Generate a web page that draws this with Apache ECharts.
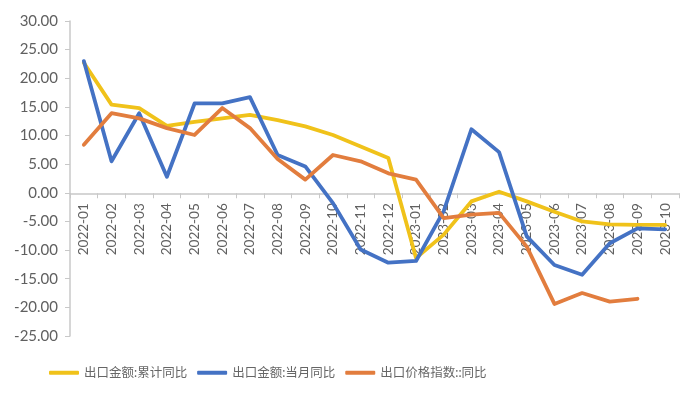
<!DOCTYPE html>
<html>
<head>
<meta charset="utf-8">
<script src="https://cdn.jsdelivr.net/npm/echarts@6/dist/echarts.min.js"></script>
<style>
html,body{margin:0;padding:0;background:#fff;}
#chart{width:700px;height:400px;}
</style>
</head>
<body>
<div id="chart"></div>
<script>
const categories = ['2022-01','2022-02','2022-03','2022-04','2022-05','2022-06','2022-07','2022-08','2022-09','2022-10','2022-11','2022-12','2023-01','2023-02','2023-03','2023-04','2023-05','2023-06','2023-07','2023-08','2023-09','2023-10'];
const seriesNames = ['出口金额:累计同比','出口金额:当月同比','出口价格指数::同比'];
const cumulativeYoY = [22.7,15.4,14.8,11.7,12.4,13.0,13.6,12.7,11.6,10.1,8.1,6.1,-11.4,-7.3,-1.5,0.2,-1.5,-3.3,-5.0,-5.5,-5.6,-5.6];
const monthlyYoY = [23.0,5.5,13.9,2.8,15.6,15.6,16.7,6.6,4.6,-1.8,-9.9,-12.2,-11.9,-3.2,11.1,7.1,-7.6,-12.6,-14.3,-8.8,-6.2,-6.4];
const priceIndexYoY = [8.4,13.9,13.0,11.3,10.1,14.8,11.3,5.9,2.3,6.6,5.5,3.4,2.3,-4.4,-3.8,-3.5,-9.4,-19.4,-17.5,-19.0,-18.5,null];
const colors = ['#F0C21A','#4472C4','#E27D3E'];

const chart = echarts.init(document.getElementById('chart'));
const font = 'Lato, "Noto Sans CJK SC", sans-serif';
function lineSeries(name, data, color){
  return {
    name: name, type: 'line', data: data,
    showSymbol: false, symbol: 'none',
    lineStyle: {width: 3.8, color: color, join: 'round', cap: 'round'},
    itemStyle: {color: color},
    connectNulls: false,
    animation: false
  };
}
const gridBottom = 64;
chart.setOption({
  animation: false,
  color: colors,
  grid: {left: 70, right: 21, top: 21, bottom: gridBottom},
  legend: {
    left: 44, bottom: 16,
    icon: 'roundRect',
    itemWidth: 30, itemHeight: 4, itemGap: 10,
    textStyle: {color: '#666666', fontSize: 12.5, fontFamily: font},
    data: seriesNames
  },
  xAxis: {
    type: 'category',
    data: categories,
    boundaryGap: true,
    offset: 0,
    axisLine: {onZero: false, lineStyle: {color: '#C8C8C8', width: 1.5}},
    axisTick: {show: true, alignWithLabel: false, length: 5, lineStyle: {color: '#C8C8C8'}},
    axisLabel: {rotate: 90, interval: 0, color: '#606060', fontSize: 13.5, fontFamily: font, margin: 10}
  },
  yAxis: {
    type: 'value',
    min: -25, max: 30, interval: 5,
    axisLine: {show: true, lineStyle: {color: '#C8C8C8', width: 1.5}},
    axisTick: {show: true, length: 5, lineStyle: {color: '#C8C8C8'}},
    splitLine: {show: false},
    axisLabel: {color: '#606060', fontSize: 15, fontFamily: font, margin: 12, formatter: v => v.toFixed(2)}
  },
  series: [
    lineSeries(seriesNames[0], cumulativeYoY, colors[0]),
    lineSeries(seriesNames[1], monthlyYoY, colors[1]),
    lineSeries(seriesNames[2], priceIndexYoY, colors[2])
  ]
});
// move the x axis (line, ticks, labels) up to the zero value
const zeroY = chart.convertToPixel({yAxisIndex: 0}, 0);
const minY = chart.convertToPixel({yAxisIndex: 0}, -25);
chart.setOption({xAxis: {offset: -(minY - zeroY)}});
</script>
</body>
</html>
